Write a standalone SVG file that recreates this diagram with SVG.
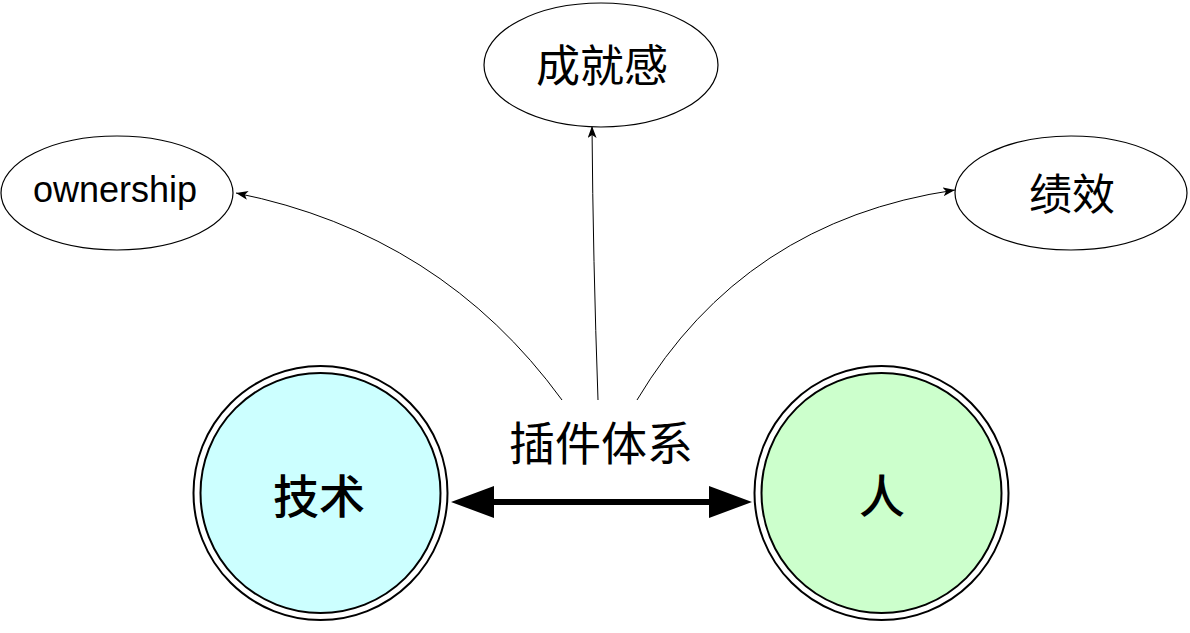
<svg xmlns="http://www.w3.org/2000/svg" width="1190" height="633" viewBox="0 0 1190 633">
<style>
.ell{fill:#ffffff;stroke:#000;stroke-width:1.2}
.ring{fill:#ffffff;stroke:#000;stroke-width:2}
.lbl{font-family:"Liberation Sans","Noto Sans CJK SC",sans-serif;fill:#000;text-anchor:middle}
.cjk{font-family:"Noto Sans CJK SC","Liberation Sans",sans-serif;fill:#000;text-anchor:middle}
.thin{fill:none;stroke:#000;stroke-width:1;marker-end:url(#sa)}
</style>
<defs>
<marker id="sa" viewBox="0 0 12 9" refX="12" refY="4.5" markerWidth="12" markerHeight="9" markerUnits="userSpaceOnUse" orient="auto">
<path d="M0,0 L12,4.5 L0,9 L3,4.5 Z" fill="#000"/>
</marker>
</defs>
<rect width="1190" height="633" fill="#ffffff"/>
<g id="connectors">
<path class="thin" d="M562,400 Q441,234 236,193"/>
<path class="thin" d="M598,400 Q593,260 592,126"/>
<path class="thin" d="M637,400 Q744,221 955,190"/>
<g id="bidir">
<line x1="488" y1="502" x2="715" y2="502" stroke="#000" stroke-width="6"/>
<polygon points="451,502 494,486 494,518" fill="#000"/>
<polygon points="752,502 709,486 709,518" fill="#000"/>
</g>
<text class="cjk" x="601" y="460" font-size="46">插件体系</text>
</g>
<g id="node-ownership">
<ellipse class="ell" cx="117" cy="193" rx="116" ry="57"/>
<text class="lbl" x="115" y="202" font-size="36">ownership</text>
</g>
<g id="node-chengjiugan">
<ellipse class="ell" cx="601" cy="65" rx="117" ry="62"/>
<text class="cjk" x="602" y="82" font-size="44">成就感</text>
</g>
<g id="node-jixiao">
<ellipse class="ell" cx="1071" cy="193" rx="116" ry="57"/>
<text class="cjk" x="1072" y="210" font-size="43">绩效</text>
</g>
<g id="node-jishu">
<circle class="ring" cx="320.5" cy="493" r="127"/>
<circle cx="320.5" cy="493" r="120" fill="#ccffff" stroke="#000" stroke-width="2"/>
<text class="cjk" x="319" y="513" font-size="46" font-weight="500">技术</text>
</g>
<g id="node-ren">
<circle class="ring" cx="881.5" cy="493" r="127"/>
<circle cx="881.5" cy="493" r="120" fill="#ccffcc" stroke="#000" stroke-width="2"/>
<text class="cjk" x="882" y="513" font-size="46" font-weight="500">人</text>
</g>
</svg>
